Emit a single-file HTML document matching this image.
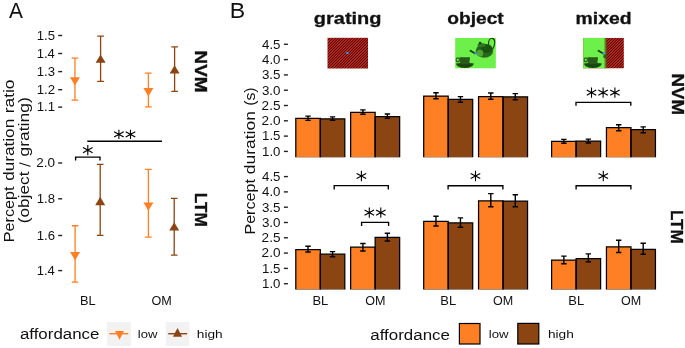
<!DOCTYPE html>
<html><head><meta charset="utf-8"><style>
html,body{margin:0;padding:0;background:#fff;}
svg{display:block;will-change:transform;}
text{font-family:"Liberation Sans",sans-serif;}
</style></head><body>
<svg width="685" height="348" viewBox="0 0 685 348">
<rect width="685" height="348" fill="#fff"/>

<defs>
<clipPath id="cpB"><rect x="0" y="0" width="685" height="157.2"/><rect x="0" y="170" width="685" height="119.4"/></clipPath>
<clipPath id="cpObj"><rect x="455.1" y="37.8" width="40.8" height="30.7"/></clipPath>
<clipPath id="cpMix"><rect x="583.1" y="37.8" width="40.8" height="30.7"/></clipPath>
<linearGradient id="grg" gradientUnits="userSpaceOnUse" x1="0" y1="0" x2="1.4" y2="1.4" spreadMethod="repeat">
<stop offset="0" stop-color="#C62C20"/><stop offset="0.22" stop-color="#B02418"/><stop offset="0.42" stop-color="#450303"/><stop offset="0.58" stop-color="#450303"/><stop offset="0.78" stop-color="#B02418"/><stop offset="1" stop-color="#C62C20"/></linearGradient>
<linearGradient id="mixfade" gradientUnits="userSpaceOnUse" x1="603.6" x2="607.9" y1="0" y2="0">
<stop offset="0" stop-color="#6EF04A" stop-opacity="1"/>
<stop offset="0.45" stop-color="#5E8A28" stop-opacity="0.85"/>
<stop offset="1" stop-color="#3A2A0A" stop-opacity="0"/>
</linearGradient>

</defs>
<clipPath id="cpGr"><rect x="327.5" y="37.8" width="40.5" height="30.7"/></clipPath>
<rect x="327.5" y="37.8" width="40.5" height="30.7" fill="url(#grg)"/>
<circle cx="347.4" cy="53.1" r="1.25" fill="#3C96FF"/>

<g clip-path="url(#cpObj)"><rect x="455.1" y="37.8" width="40.8" height="30.7" fill="#6EF04A"/><path d="M455.80 63.5Q464.90 62.2 474.00 63.5Q472.60 67.9 464.90 68.0Q457.20 67.9 455.80 63.5Z" fill="#1B470F"/><path d="M459.30 57.2H470.00L469.20 64.0H460.10Z" fill="#285A19"/><ellipse cx="457.70" cy="59.8" rx="1.6" ry="2.0" fill="none" stroke="#285A19" stroke-width="1.2"/><path d="M488.6 45.8C487.8 40.2 490.2 37.8 492.4 38.4C495.6 39.3 495.5 44.5 492.4 49.6" fill="none" stroke="#17400E" stroke-width="1.1"/><ellipse cx="484.4" cy="50.9" rx="8.7" ry="6.9" fill="#27681A"/><ellipse cx="486.6" cy="48.6" rx="5.8" ry="4.4" fill="#1C5211"/><ellipse cx="479.9" cy="53.2" rx="3.3" ry="3.4" fill="#4CA536"/><ellipse cx="481.5" cy="45.0" rx="4.0" ry="2.0" fill="#2F7A20"/><circle cx="480.1" cy="43.0" r="1.3" fill="#15380C"/><path d="M470.4 50.7L475.2 53.5" fill="none" stroke="#15380C" stroke-width="1.6" stroke-linecap="round"/><circle cx="475.6" cy="53.5" r="1.15" fill="#3C96FF"/></g>
<g clip-path="url(#cpMix)"><rect x="583.1" y="37.8" width="40.8" height="30.7" fill="url(#grg)"/><rect x="583.1" y="37.8" width="24.8" height="30.7" fill="url(#mixfade)"/><ellipse cx="604.9" cy="56.3" rx="1.7" ry="2.3" fill="#2A4A12" opacity="0.75"/><path d="M583.80 63.5Q592.90 62.2 602.00 63.5Q600.60 67.9 592.90 68.0Q585.20 67.9 583.80 63.5Z" fill="#1B470F"/><path d="M587.30 57.2H598.00L597.20 64.0H588.10Z" fill="#285A19"/><ellipse cx="585.70" cy="59.8" rx="1.6" ry="2.0" fill="none" stroke="#285A19" stroke-width="1.2"/><path d="M598.4 50.7L603.2 53.5" fill="none" stroke="#15380C" stroke-width="1.6" stroke-linecap="round"/><circle cx="603.6" cy="53.4" r="1.15" fill="#3C96FF"/></g>
<line x1="283.9" y1="44.30" x2="287.9" y2="44.30" stroke="#222" stroke-width="1.4"/><line x1="283.9" y1="59.60" x2="287.9" y2="59.60" stroke="#222" stroke-width="1.4"/><line x1="283.9" y1="74.90" x2="287.9" y2="74.90" stroke="#222" stroke-width="1.4"/><line x1="283.9" y1="90.20" x2="287.9" y2="90.20" stroke="#222" stroke-width="1.4"/><line x1="283.9" y1="105.50" x2="287.9" y2="105.50" stroke="#222" stroke-width="1.4"/><line x1="283.9" y1="120.80" x2="287.9" y2="120.80" stroke="#222" stroke-width="1.4"/><line x1="283.9" y1="136.10" x2="287.9" y2="136.10" stroke="#222" stroke-width="1.4"/><line x1="283.9" y1="151.40" x2="287.9" y2="151.40" stroke="#222" stroke-width="1.4"/><line x1="283.9" y1="176.60" x2="287.9" y2="176.60" stroke="#222" stroke-width="1.4"/><line x1="283.9" y1="191.90" x2="287.9" y2="191.90" stroke="#222" stroke-width="1.4"/><line x1="283.9" y1="207.20" x2="287.9" y2="207.20" stroke="#222" stroke-width="1.4"/><line x1="283.9" y1="222.50" x2="287.9" y2="222.50" stroke="#222" stroke-width="1.4"/><line x1="283.9" y1="237.80" x2="287.9" y2="237.80" stroke="#222" stroke-width="1.4"/><line x1="283.9" y1="253.10" x2="287.9" y2="253.10" stroke="#222" stroke-width="1.4"/><line x1="283.9" y1="268.40" x2="287.9" y2="268.40" stroke="#222" stroke-width="1.4"/><line x1="283.9" y1="283.70" x2="287.9" y2="283.70" stroke="#222" stroke-width="1.4"/><rect x="459.4" y="323.5" width="20.6" height="20.5" fill="#FF7F24" stroke="#000" stroke-width="1.2"/><rect x="517.8" y="323.4" width="21.0" height="20.6" fill="#8B4513" stroke="#000" stroke-width="1.2"/><g clip-path="url(#cpB)"><rect x="295.80" y="118.40" width="24.50" height="38.80" fill="#FF7F24"/><rect x="320.30" y="118.90" width="24.50" height="38.30" fill="#8B4513"/><rect x="350.65" y="112.40" width="24.50" height="44.80" fill="#FF7F24"/><rect x="375.15" y="116.60" width="24.50" height="40.60" fill="#8B4513"/><rect x="423.70" y="96.00" width="24.50" height="61.20" fill="#FF7F24"/><rect x="448.20" y="99.30" width="24.50" height="57.90" fill="#8B4513"/><rect x="478.55" y="96.50" width="24.50" height="60.70" fill="#FF7F24"/><rect x="503.05" y="96.80" width="24.50" height="60.40" fill="#8B4513"/><rect x="551.60" y="141.30" width="24.50" height="15.90" fill="#FF7F24"/><rect x="576.10" y="141.10" width="24.50" height="16.10" fill="#8B4513"/><rect x="606.45" y="127.60" width="24.50" height="29.60" fill="#FF7F24"/><rect x="630.95" y="129.60" width="24.50" height="27.60" fill="#8B4513"/><rect x="295.80" y="249.50" width="24.50" height="39.90" fill="#FF7F24"/><rect x="320.30" y="254.20" width="24.50" height="35.20" fill="#8B4513"/><rect x="350.65" y="247.20" width="24.50" height="42.20" fill="#FF7F24"/><rect x="375.15" y="237.30" width="24.50" height="52.10" fill="#8B4513"/><rect x="423.70" y="221.30" width="24.50" height="68.10" fill="#FF7F24"/><rect x="448.20" y="222.90" width="24.50" height="66.50" fill="#8B4513"/><rect x="478.55" y="200.80" width="24.50" height="88.60" fill="#FF7F24"/><rect x="503.05" y="201.10" width="24.50" height="88.30" fill="#8B4513"/><rect x="551.60" y="260.10" width="24.50" height="29.30" fill="#FF7F24"/><rect x="576.10" y="258.60" width="24.50" height="30.80" fill="#8B4513"/><rect x="606.45" y="246.80" width="24.50" height="42.60" fill="#FF7F24"/><rect x="630.95" y="249.30" width="24.50" height="40.10" fill="#8B4513"/><path d="M295.80 157.65V118.40H320.30V157.65Z" fill="none" stroke="#000" stroke-width="1.25"/><path d="M320.30 157.65V118.90H344.80V157.65Z" fill="none" stroke="#000" stroke-width="1.25"/><path d="M350.65 157.65V112.40H375.15V157.65Z" fill="none" stroke="#000" stroke-width="1.25"/><path d="M375.15 157.65V116.60H399.65V157.65Z" fill="none" stroke="#000" stroke-width="1.25"/><path d="M423.70 157.65V96.00H448.20V157.65Z" fill="none" stroke="#000" stroke-width="1.25"/><path d="M448.20 157.65V99.30H472.70V157.65Z" fill="none" stroke="#000" stroke-width="1.25"/><path d="M478.55 157.65V96.50H503.05V157.65Z" fill="none" stroke="#000" stroke-width="1.25"/><path d="M503.05 157.65V96.80H527.55V157.65Z" fill="none" stroke="#000" stroke-width="1.25"/><path d="M551.60 157.65V141.30H576.10V157.65Z" fill="none" stroke="#000" stroke-width="1.25"/><path d="M576.10 157.65V141.10H600.60V157.65Z" fill="none" stroke="#000" stroke-width="1.25"/><path d="M606.45 157.65V127.60H630.95V157.65Z" fill="none" stroke="#000" stroke-width="1.25"/><path d="M630.95 157.65V129.60H655.45V157.65Z" fill="none" stroke="#000" stroke-width="1.25"/><path d="M295.80 289.85V249.50H320.30V289.85Z" fill="none" stroke="#000" stroke-width="1.25"/><path d="M320.30 289.85V254.20H344.80V289.85Z" fill="none" stroke="#000" stroke-width="1.25"/><path d="M350.65 289.85V247.20H375.15V289.85Z" fill="none" stroke="#000" stroke-width="1.25"/><path d="M375.15 289.85V237.30H399.65V289.85Z" fill="none" stroke="#000" stroke-width="1.25"/><path d="M423.70 289.85V221.30H448.20V289.85Z" fill="none" stroke="#000" stroke-width="1.25"/><path d="M448.20 289.85V222.90H472.70V289.85Z" fill="none" stroke="#000" stroke-width="1.25"/><path d="M478.55 289.85V200.80H503.05V289.85Z" fill="none" stroke="#000" stroke-width="1.25"/><path d="M503.05 289.85V201.10H527.55V289.85Z" fill="none" stroke="#000" stroke-width="1.25"/><path d="M551.60 289.85V260.10H576.10V289.85Z" fill="none" stroke="#000" stroke-width="1.25"/><path d="M576.10 289.85V258.60H600.60V289.85Z" fill="none" stroke="#000" stroke-width="1.25"/><path d="M606.45 289.85V246.80H630.95V289.85Z" fill="none" stroke="#000" stroke-width="1.25"/><path d="M630.95 289.85V249.30H655.45V289.85Z" fill="none" stroke="#000" stroke-width="1.25"/></g><path d="M305.35 116.10H310.75M308.05 116.10V120.40M305.35 120.40H310.75" fill="none" stroke="#000" stroke-width="1.4"/><path d="M329.85 116.90H335.25M332.55 116.90V120.40M329.85 120.40H335.25" fill="none" stroke="#000" stroke-width="1.4"/><path d="M360.20 109.90H365.60M362.90 109.90V114.20M360.20 114.20H365.60" fill="none" stroke="#000" stroke-width="1.4"/><path d="M384.70 114.00H390.10M387.40 114.00V118.30M384.70 118.30H390.10" fill="none" stroke="#000" stroke-width="1.4"/><path d="M433.25 92.80H438.65M435.95 92.80V98.80M433.25 98.80H438.65" fill="none" stroke="#000" stroke-width="1.4"/><path d="M457.75 96.60H463.15M460.45 96.60V102.20M457.75 102.20H463.15" fill="none" stroke="#000" stroke-width="1.4"/><path d="M488.10 93.00H493.50M490.80 93.00V99.30M488.10 99.30H493.50" fill="none" stroke="#000" stroke-width="1.4"/><path d="M512.60 93.60H518.00M515.30 93.60V99.80M512.60 99.80H518.00" fill="none" stroke="#000" stroke-width="1.4"/><path d="M561.15 139.40H566.55M563.85 139.40V143.30M561.15 143.30H566.55" fill="none" stroke="#000" stroke-width="1.4"/><path d="M585.65 139.10H591.05M588.35 139.10V143.00M585.65 143.00H591.05" fill="none" stroke="#000" stroke-width="1.4"/><path d="M616.00 124.80H621.40M618.70 124.80V130.80M616.00 130.80H621.40" fill="none" stroke="#000" stroke-width="1.4"/><path d="M640.50 126.90H645.90M643.20 126.90V132.70M640.50 132.70H645.90" fill="none" stroke="#000" stroke-width="1.4"/><path d="M305.35 246.30H310.75M308.05 246.30V252.00M305.35 252.00H310.75" fill="none" stroke="#000" stroke-width="1.4"/><path d="M329.85 251.60H335.25M332.55 251.60V256.70M329.85 256.70H335.25" fill="none" stroke="#000" stroke-width="1.4"/><path d="M360.20 243.50H365.60M362.90 243.50V251.00M360.20 251.00H365.60" fill="none" stroke="#000" stroke-width="1.4"/><path d="M384.70 233.20H390.10M387.40 233.20V241.00M384.70 241.00H390.10" fill="none" stroke="#000" stroke-width="1.4"/><path d="M433.25 216.30H438.65M435.95 216.30V226.00M433.25 226.00H438.65" fill="none" stroke="#000" stroke-width="1.4"/><path d="M457.75 217.90H463.15M460.45 217.90V227.30M457.75 227.30H463.15" fill="none" stroke="#000" stroke-width="1.4"/><path d="M488.10 193.60H493.50M490.80 193.60V206.70M488.10 206.70H493.50" fill="none" stroke="#000" stroke-width="1.4"/><path d="M512.60 194.80H518.00M515.30 194.80V206.80M512.60 206.80H518.00" fill="none" stroke="#000" stroke-width="1.4"/><path d="M561.15 256.10H566.55M563.85 256.10V263.80M561.15 263.80H566.55" fill="none" stroke="#000" stroke-width="1.4"/><path d="M585.65 253.90H591.05M588.35 253.90V261.80M585.65 261.80H591.05" fill="none" stroke="#000" stroke-width="1.4"/><path d="M616.00 240.30H621.40M618.70 240.30V252.50M616.00 252.50H621.40" fill="none" stroke="#000" stroke-width="1.4"/><path d="M640.50 243.30H645.90M643.20 243.30V254.30M640.50 254.30H645.90" fill="none" stroke="#000" stroke-width="1.4"/><path d="M576.00 105.80V102.40H630.80V105.80M334.20 189.50V185.60H388.30V189.50M361.60 225.90V222.30H388.60V225.90M448.10 189.60V185.70H502.90V189.60M576.10 189.60V185.70H630.90V189.60M75.60 160.60V157.10H100.00V160.60M87.3 141.2H162.0" fill="none" stroke="#000" stroke-width="1.35" stroke-linecap="butt"/><path d="M591.50 87.45V97.75M586.75 90.00L596.25 95.20M586.75 95.20L596.25 90.00M603.10 87.45V97.75M598.35 90.00L607.85 95.20M598.35 95.20L607.85 90.00M614.90 87.45V97.75M610.15 90.00L619.65 95.20M610.15 95.20L619.65 90.00M361.40 170.85V181.15M356.65 173.40L366.15 178.60M356.65 178.60L366.15 173.40M369.30 207.55V217.85M364.55 210.10L374.05 215.30M364.55 215.30L374.05 210.10M380.80 207.55V217.85M376.05 210.10L385.55 215.30M376.05 215.30L385.55 210.10M475.50 170.85V181.15M470.75 173.40L480.25 178.60M470.75 178.60L480.25 173.40M603.30 170.85V181.15M598.55 173.40L608.05 178.60M598.55 178.60L608.05 173.40M87.80 145.00V155.20M83.00 147.45L92.60 152.75M83.00 152.75L92.60 147.45M118.90 129.80V139.00M114.10 131.70L123.70 137.10M114.10 137.10L123.70 131.70M130.50 129.80V139.00M125.70 131.70L135.30 137.10M125.70 137.10L135.30 131.70" fill="none" stroke="#000" stroke-width="1.1" stroke-linecap="butt"/><circle cx="591.50" cy="92.60" r="0.95" fill="#000"/><circle cx="603.10" cy="92.60" r="0.95" fill="#000"/><circle cx="614.90" cy="92.60" r="0.95" fill="#000"/><circle cx="361.40" cy="176.00" r="0.95" fill="#000"/><circle cx="369.30" cy="212.70" r="0.95" fill="#000"/><circle cx="380.80" cy="212.70" r="0.95" fill="#000"/><circle cx="475.50" cy="176.00" r="0.95" fill="#000"/><circle cx="603.30" cy="176.00" r="0.95" fill="#000"/><circle cx="87.80" cy="150.10" r="0.95" fill="#000"/><circle cx="118.90" cy="134.40" r="0.95" fill="#000"/><circle cx="130.50" cy="134.40" r="0.95" fill="#000"/><line x1="58.2" y1="35.50" x2="62.2" y2="35.50" stroke="#222" stroke-width="1.4"/><line x1="58.2" y1="53.50" x2="62.2" y2="53.50" stroke="#222" stroke-width="1.4"/><line x1="58.2" y1="71.60" x2="62.2" y2="71.60" stroke="#222" stroke-width="1.4"/><line x1="58.2" y1="89.70" x2="62.2" y2="89.70" stroke="#222" stroke-width="1.4"/><line x1="58.2" y1="107.10" x2="62.2" y2="107.10" stroke="#222" stroke-width="1.4"/><line x1="58.2" y1="163.00" x2="62.2" y2="163.00" stroke="#222" stroke-width="1.4"/><line x1="58.2" y1="198.80" x2="62.2" y2="198.80" stroke="#222" stroke-width="1.4"/><line x1="58.2" y1="235.50" x2="62.2" y2="235.50" stroke="#222" stroke-width="1.4"/><line x1="58.2" y1="270.60" x2="62.2" y2="270.60" stroke="#222" stroke-width="1.4"/><path d="M19.65 162.95L30.05 166.25" stroke="#111" stroke-width="1.1" stroke-linecap="round"/><path d="M71.65 58.05H78.25M74.95 58.05V100.05M71.65 100.05H78.25" fill="none" stroke="#FF7F24" stroke-width="1.3"/><path d="M69.95 77.20H79.95L74.95 85.60Z" fill="#FF7F24"/><path d="M97.30 36.05H103.90M100.60 36.05V81.35M97.30 81.35H103.90" fill="none" stroke="#8B4513" stroke-width="1.3"/><path d="M95.60 62.80H105.60L100.60 54.40Z" fill="#8B4513"/><path d="M145.10 73.05H151.70M148.40 73.05V106.95M145.10 106.95H151.70" fill="none" stroke="#FF7F24" stroke-width="1.3"/><path d="M143.40 88.00H153.40L148.40 96.40Z" fill="#FF7F24"/><path d="M171.30 46.95H177.90M174.60 46.95V91.45M171.30 91.45H177.90" fill="none" stroke="#8B4513" stroke-width="1.3"/><path d="M169.60 73.60H179.60L174.60 65.20Z" fill="#8B4513"/><path d="M71.80 225.75H78.40M75.10 225.75V282.05M71.80 282.05H78.40" fill="none" stroke="#FF7F24" stroke-width="1.3"/><path d="M70.10 252.00H80.10L75.10 260.40Z" fill="#FF7F24"/><path d="M96.90 164.45H103.50M100.20 164.45V235.35M96.90 235.35H103.50" fill="none" stroke="#8B4513" stroke-width="1.3"/><path d="M95.20 205.20H105.20L100.20 196.80Z" fill="#8B4513"/><path d="M145.10 169.35H151.70M148.40 169.35V237.05M145.10 237.05H151.70" fill="none" stroke="#FF7F24" stroke-width="1.3"/><path d="M143.40 202.40H153.40L148.40 210.80Z" fill="#FF7F24"/><path d="M170.90 198.45H177.50M174.20 198.45V255.15M170.90 255.15H177.50" fill="none" stroke="#8B4513" stroke-width="1.3"/><path d="M169.20 230.60H179.20L174.20 222.20Z" fill="#8B4513"/><rect x="107" y="322" width="24" height="24" fill="#F2F2F2"/><rect x="165.8" y="322" width="23.6" height="24" fill="#F2F2F2"/><line x1="109.3" y1="333.7" x2="128.3" y2="333.7" stroke="#FF7F24" stroke-width="1.4"/><path d="M115.0 331.0H124.0L119.5 339.8Z" fill="#FF7F24"/><line x1="168.2" y1="333.7" x2="187.1" y2="333.7" stroke="#8B4513" stroke-width="1.4"/><path d="M172.9 336.8H182.1L177.5 328.0Z" fill="#8B4513"/>
<text x="9.10" y="18.40" font-size="22.90" fill="#111" textLength="13.94" lengthAdjust="spacingAndGlyphs">A</text><text x="229.85" y="17.80" font-size="22.75" fill="#111" textLength="15.44" lengthAdjust="spacingAndGlyphs">B</text><text x="313.80" y="24.40" font-size="16.99" font-weight="bold" fill="#111" stroke="#111" stroke-width="0.3" textLength="67.72" lengthAdjust="spacingAndGlyphs">grating</text><text x="447.22" y="24.40" font-size="16.58" font-weight="bold" fill="#111" stroke="#111" stroke-width="0.3" textLength="56.53" lengthAdjust="spacingAndGlyphs">object</text><text x="575.64" y="24.40" font-size="16.58" font-weight="bold" fill="#111" stroke="#111" stroke-width="0.3" textLength="55.94" lengthAdjust="spacingAndGlyphs">mixed</text><text x="262.03" y="48.60" font-size="12.86" fill="#111" textLength="18.45" lengthAdjust="spacingAndGlyphs">4.5</text><text x="262.03" y="63.90" font-size="12.86" fill="#111" textLength="18.45" lengthAdjust="spacingAndGlyphs">4.0</text><text x="261.90" y="79.20" font-size="12.86" fill="#111" textLength="18.58" lengthAdjust="spacingAndGlyphs">3.5</text><text x="261.90" y="94.50" font-size="12.86" fill="#111" textLength="18.58" lengthAdjust="spacingAndGlyphs">3.0</text><text x="261.62" y="109.80" font-size="12.86" fill="#111" textLength="18.87" lengthAdjust="spacingAndGlyphs">2.5</text><text x="261.62" y="125.10" font-size="12.86" fill="#111" textLength="18.87" lengthAdjust="spacingAndGlyphs">2.0</text><text x="262.07" y="140.40" font-size="13.04" fill="#111" textLength="18.41" lengthAdjust="spacingAndGlyphs">1.5</text><text x="262.07" y="155.70" font-size="12.86" fill="#111" textLength="18.41" lengthAdjust="spacingAndGlyphs">1.0</text><text x="262.03" y="180.90" font-size="12.86" fill="#111" textLength="18.45" lengthAdjust="spacingAndGlyphs">4.5</text><text x="262.03" y="196.20" font-size="12.86" fill="#111" textLength="18.45" lengthAdjust="spacingAndGlyphs">4.0</text><text x="261.90" y="211.50" font-size="12.86" fill="#111" textLength="18.58" lengthAdjust="spacingAndGlyphs">3.5</text><text x="261.90" y="226.80" font-size="12.86" fill="#111" textLength="18.58" lengthAdjust="spacingAndGlyphs">3.0</text><text x="261.62" y="242.10" font-size="12.86" fill="#111" textLength="18.87" lengthAdjust="spacingAndGlyphs">2.5</text><text x="261.62" y="257.40" font-size="12.86" fill="#111" textLength="18.87" lengthAdjust="spacingAndGlyphs">2.0</text><text x="262.07" y="272.70" font-size="13.04" fill="#111" textLength="18.41" lengthAdjust="spacingAndGlyphs">1.5</text><text x="262.07" y="288.00" font-size="12.86" fill="#111" textLength="18.41" lengthAdjust="spacingAndGlyphs">1.0</text><text transform="translate(254.90 233.30) rotate(-90)" x="-1.29" y="0" font-size="14.70" fill="#111" textLength="55.45" lengthAdjust="spacingAndGlyphs">Percept</text><text transform="translate(254.90 173.50) rotate(-90)" x="-0.70" y="0" font-size="14.70" fill="#111" textLength="63.08" lengthAdjust="spacingAndGlyphs">duration</text><text transform="translate(254.90 104.90) rotate(-90)" x="-0.95" y="0" font-size="14.70" fill="#111" textLength="18.49" lengthAdjust="spacingAndGlyphs">(s)</text><text x="312.46" y="305.10" font-size="13.04" fill="#111" textLength="15.88" lengthAdjust="spacingAndGlyphs">BL</text><text x="365.20" y="305.10" font-size="12.86" fill="#111" textLength="20.22" lengthAdjust="spacingAndGlyphs">OM</text><text x="440.36" y="305.10" font-size="13.04" fill="#111" textLength="15.88" lengthAdjust="spacingAndGlyphs">BL</text><text x="493.10" y="305.10" font-size="12.86" fill="#111" textLength="20.22" lengthAdjust="spacingAndGlyphs">OM</text><text x="568.26" y="305.10" font-size="13.04" fill="#111" textLength="15.88" lengthAdjust="spacingAndGlyphs">BL</text><text x="621.00" y="305.10" font-size="12.86" fill="#111" textLength="20.22" lengthAdjust="spacingAndGlyphs">OM</text><text transform="translate(671.50 74.60) rotate(90)" x="-1.12" y="0" font-size="16.40" font-weight="bold" fill="#111" stroke="#111" stroke-width="0.35" textLength="41.50" lengthAdjust="spacingAndGlyphs">NVM</text><text transform="translate(671.30 211.00) rotate(90)" x="-1.02" y="0" font-size="16.40" font-weight="bold" fill="#111" stroke="#111" stroke-width="0.35" textLength="33.69" lengthAdjust="spacingAndGlyphs">LTM</text><text transform="translate(195.30 51.70) rotate(90)" x="-1.13" y="0" font-size="16.40" font-weight="bold" fill="#111" stroke="#111" stroke-width="0.35" textLength="41.92" lengthAdjust="spacingAndGlyphs">NVM</text><text transform="translate(195.30 193.80) rotate(90)" x="-1.03" y="0" font-size="16.40" font-weight="bold" fill="#111" stroke="#111" stroke-width="0.35" textLength="34.01" lengthAdjust="spacingAndGlyphs">LTM</text><text x="370.32" y="339.50" font-size="15.07" fill="#111" textLength="79.59" lengthAdjust="spacingAndGlyphs">affordance</text><text x="488.81" y="337.80" font-size="11.51" fill="#111" textLength="19.79" lengthAdjust="spacingAndGlyphs">low</text><text x="547.98" y="337.60" font-size="11.23" fill="#111" textLength="25.89" lengthAdjust="spacingAndGlyphs">high</text><text x="36.68" y="39.80" font-size="13.04" fill="#111" textLength="18.30" lengthAdjust="spacingAndGlyphs">1.5</text><text x="36.69" y="57.80" font-size="12.86" fill="#111" textLength="18.16" lengthAdjust="spacingAndGlyphs">1.4</text><text x="36.68" y="75.90" font-size="12.86" fill="#111" textLength="18.30" lengthAdjust="spacingAndGlyphs">1.3</text><text x="36.67" y="94.00" font-size="12.86" fill="#111" textLength="18.44" lengthAdjust="spacingAndGlyphs">1.2</text><text x="36.67" y="111.40" font-size="13.04" fill="#111" textLength="18.44" lengthAdjust="spacingAndGlyphs">1.1</text><text x="36.23" y="167.30" font-size="12.86" fill="#111" textLength="18.76" lengthAdjust="spacingAndGlyphs">2.0</text><text x="36.68" y="203.10" font-size="12.86" fill="#111" textLength="18.30" lengthAdjust="spacingAndGlyphs">1.8</text><text x="36.68" y="239.80" font-size="12.86" fill="#111" textLength="18.30" lengthAdjust="spacingAndGlyphs">1.6</text><text x="36.69" y="274.90" font-size="12.86" fill="#111" textLength="18.16" lengthAdjust="spacingAndGlyphs">1.4</text><text transform="translate(13.50 241.00) rotate(-90)" x="-1.30" y="0" font-size="14.70" fill="#111" textLength="55.86" lengthAdjust="spacingAndGlyphs">Percept</text><text transform="translate(13.50 180.10) rotate(-90)" x="-0.69" y="0" font-size="14.70" fill="#111" textLength="61.95" lengthAdjust="spacingAndGlyphs">duration</text><text transform="translate(13.50 112.30) rotate(-90)" x="-1.04" y="0" font-size="14.70" fill="#111" textLength="33.87" lengthAdjust="spacingAndGlyphs">ratio</text><text transform="translate(29.30 222.30) rotate(-90)" x="-1.04" y="0" font-size="14.70" fill="#111" textLength="51.80" lengthAdjust="spacingAndGlyphs">(object</text><text transform="translate(29.30 155.90) rotate(-90)" x="-0.70" y="0" font-size="14.70" fill="#111" textLength="59.33" lengthAdjust="spacingAndGlyphs">grating)</text><text x="79.88" y="305.40" font-size="13.33" fill="#111" textLength="15.66" lengthAdjust="spacingAndGlyphs">BL</text><text x="151.40" y="305.40" font-size="13.14" fill="#111" textLength="20.33" lengthAdjust="spacingAndGlyphs">OM</text><text x="19.92" y="339.40" font-size="14.79" fill="#111" textLength="79.49" lengthAdjust="spacingAndGlyphs">affordance</text><text x="137.81" y="338.00" font-size="11.51" fill="#111" textLength="19.68" lengthAdjust="spacingAndGlyphs">low</text><text x="196.78" y="337.80" font-size="11.64" fill="#111" textLength="25.89" lengthAdjust="spacingAndGlyphs">high</text>
</svg>
</body></html>
